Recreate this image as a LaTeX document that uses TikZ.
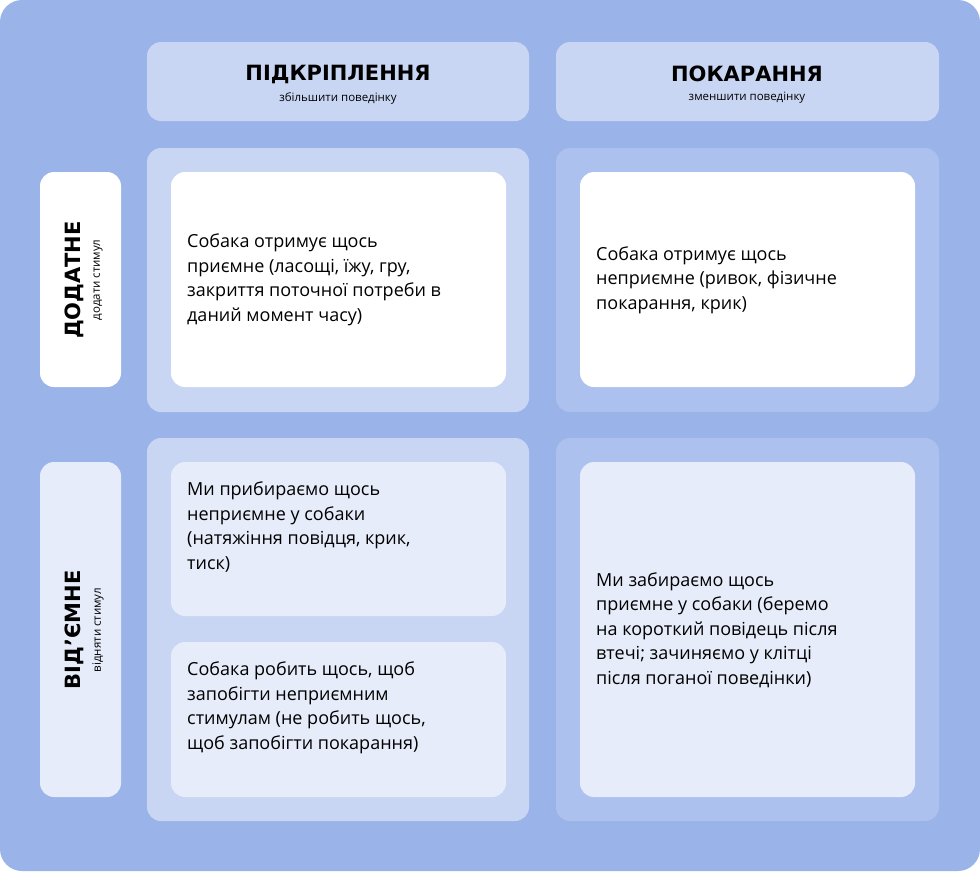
\documentclass[tikz,border=0pt]{standalone}
\usepackage{fontspec}
\setmainfont{Open Sans}
\newfontfamily\headf{DejaVu Sans}
\definecolor{bg}{HTML}{9AB3E8}
\definecolor{pa}{HTML}{C9D6F3}
\definecolor{pb}{HTML}{ADC1EE}
\definecolor{cl}{HTML}{E6ECF9}
\begin{document}
\begin{tikzpicture}[x=1pt,y=-1pt,
  box/.style={rounded corners=14pt},
  body/.style={font=\fontsize{18}{24.5}\selectfont, align=left, anchor=west, inner sep=0pt, text=black},
  head/.style={font=\headf\bfseries\fontsize{21}{24}\selectfont, inner sep=0pt},
  sub/.style={font=\fontsize{11.5}{13}\selectfont, inner sep=0pt}]
\useasboundingbox (0,0) rectangle (980,871);
\fill[bg, rounded corners=22pt] (0,0) rectangle (980,871);
% headers
\fill[pa,box] (147,42) rectangle (529,121);
\fill[pa,box] (556,42) rectangle (939,121);
\node[head] (h1) at (338,74) {ПІДКРІПЛЕННЯ};
\node[sub] (s1) at (338,98) {збільшити поведінку};
\node[head] (h2) at (747,74) {ПОКАРАННЯ};
\node[sub] (s2) at (747,98) {зменшити поведінку};
% side labels
\fill[white,box] (40,172) rectangle (121,387);
\fill[cl,box] (40,462) rectangle (121,797);
\node[head, rotate=90] (l1) at (74,280) {ДОДАТНЕ};
\node[sub, rotate=90] (ls1) at (98,280) {додати стимул};
\node[head, rotate=90] (l2) at (74,630) {ВІД’ЄМНЕ};
\node[sub, rotate=90] (ls2) at (98,630) {відняти стимул};
% panels
\fill[pa,box] (147,148) rectangle (529,412);
\fill[pb,box] (556,148) rectangle (939,412);
\fill[pa,box] (147,438) rectangle (529,821);
\fill[pb,box] (556,438) rectangle (939,821);
% cards
\fill[white,box] (171,172) rectangle (506,387);
\fill[white,box] (580,172) rectangle (915,387);
\fill[cl,box] (171,462) rectangle (506,616);
\fill[cl,box] (171,642) rectangle (506,797);
\fill[cl,box] (580,462) rectangle (915,797);
\node[body] (t1) at (187,280) {Собака отримує щось\\приємне (ласощі, їжу, гру,\\закриття поточної потреби в\\даний момент часу)};
\node[body] (t2) at (596,280) {Собака отримує щось\\неприємне (ривок, фізичне\\покарання, крик)};
\node[body] (t3) at (187,527) {Ми прибираємо щось\\неприємне у собаки\\(натяжіння повідця, крик,\\тиск)};
\node[body] (t4) at (187,708) {Собака робить щось, щоб\\запобігти неприємним\\стимулам (не робить щось,\\щоб запобігти покарання)};
\node[body] (t5) at (596,630) {Ми забираємо щось\\приємне у собаки (беремо\\на короткий повідець після\\втечі; зачиняємо у клітці\\після поганої поведінки)};
\end{tikzpicture}
\end{document}
